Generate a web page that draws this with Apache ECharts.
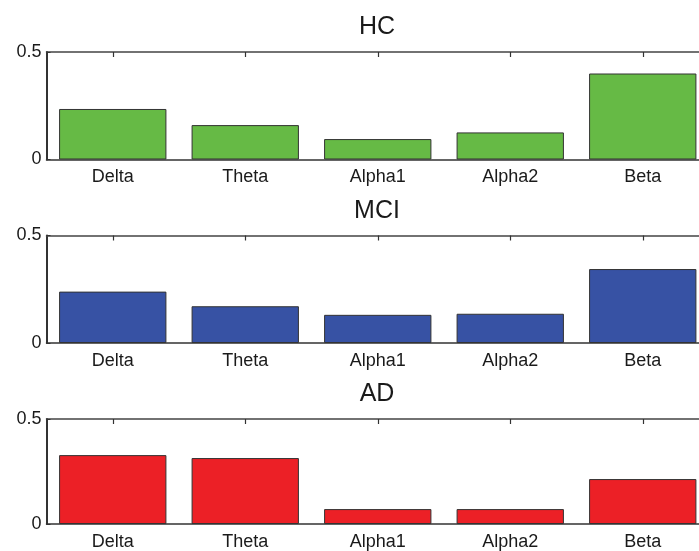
<!DOCTYPE html>
<html>
<head>
<meta charset="utf-8">
<script src="https://cdn.jsdelivr.net/npm/echarts@6/dist/echarts.min.js"></script>
<style>html,body{margin:0;padding:0;background:#fff;overflow:hidden;width:699px;height:551px;}#c{width:720px;height:551px;}</style>
</head>
<body>
<div id="c"></div>
<script>
const categories = ['Delta', 'Theta', 'Alpha1', 'Alpha2', 'Beta'];
const groupNames = ['HC', 'MCI', 'AD'];
const hcValues  = [0.235, 0.160, 0.095, 0.126, 0.400];
const mciValues = [0.239, 0.171, 0.131, 0.136, 0.344];
const adValues  = [0.328, 0.314, 0.071, 0.071, 0.214];
const yTicks = [0, 0.5];
const colors = ['#66BA45', '#3752A4', '#EC2026'];

const allValues = [hcValues, mciValues, adValues];
const font = '"Liberation Sans", Arial, sans-serif';
const tops = [52, 235.5, 419];
const plotH = 107.5;
const left = 46.5;
const plotW = 662.5;

const grids = [], xAxes = [], yAxes = [], series = [], titles = [];
tops.forEach((t, i) => {
  grids.push({left: left, width: plotW, top: t, height: plotH, containLabel: false});
  xAxes.push({
    type: 'category', data: categories, gridIndex: i, position: 'bottom',
    axisLine: {show: true, lineStyle: {color: '#333', width: 1.5}},
    axisTick: {show: false},
    axisLabel: {fontFamily: font, fontSize: 18, color: '#1a1a1a', margin: 9}
  });
  xAxes.push({
    type: 'category', data: categories, gridIndex: i, position: 'top',
    axisLine: {show: true, lineStyle: {color: '#444', width: 1.5}},
    axisTick: {show: true, inside: true, alignWithLabel: true, length: 5, lineStyle: {color: '#333', width: 1.2}},
    axisLabel: {show: false}
  });
  yAxes.push({
    type: 'value', gridIndex: i, min: yTicks[0], max: yTicks[yTicks.length - 1],
    interval: yTicks[1] - yTicks[0],
    axisLine: {show: true, lineStyle: {color: '#333', width: 2}},
    axisTick: {show: true, inside: true, length: 4, lineStyle: {color: '#333'}},
    splitLine: {show: false},
    axisLabel: {fontFamily: font, fontSize: 18, color: '#1a1a1a', margin: 5}
  });
  series.push({
    type: 'bar', xAxisIndex: i * 2, yAxisIndex: i, data: allValues[i],
    barCategoryGap: '19%',
    itemStyle: {color: colors[i], borderColor: '#333', borderWidth: 1}
  });
  titles.push({
    text: groupNames[i], left: 372, top: t - 42,
    textAlign: 'center',
    textStyle: {fontFamily: font, fontSize: 25, fontWeight: 'normal', color: '#1a1a1a'}
  });
});

const chart = echarts.init(document.getElementById('c'), null, {renderer: 'canvas'});
chart.setOption({
  animation: false,
  backgroundColor: '#fff',
  title: titles,
  grid: grids,
  xAxis: xAxes,
  yAxis: yAxes,
  series: series
});
</script>
</body>
</html>
